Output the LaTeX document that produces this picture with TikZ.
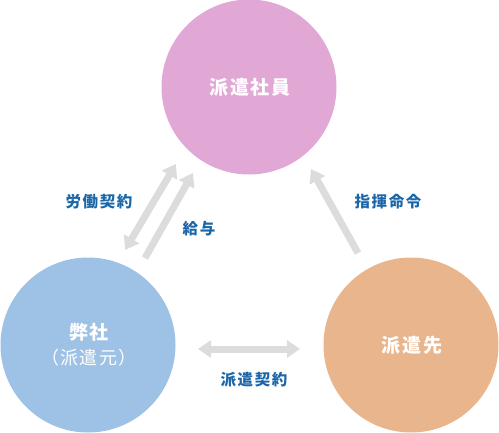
\documentclass[tikz,border=0pt]{standalone}
\usepackage{fontspec}
\newfontfamily\jp{Noto Sans CJK JP}[RawFeature=+palt,LetterSpace=10]
\usetikzlibrary{arrows.meta}
\definecolor{cpink}{HTML}{E2A8D5}
\definecolor{cblue}{HTML}{9DC2E5}
\definecolor{corange}{HTML}{E8B58C}
\definecolor{cgray}{HTML}{DCDCDC}
\definecolor{ctext}{HTML}{1A66A8}
\begin{document}
\begin{tikzpicture}[x=1pt,y=-1pt,
  circ/.style={circle,minimum size=175pt,inner sep=0pt,draw=none},
  intext/.style={text=white,font=\jp\bfseries\fontsize{19}{22}\selectfont,align=center},
  lbl/.style={text=ctext,font=\jp\bfseries\fontsize{15.5}{18}\selectfont},
  garrow/.style={draw=cgray,line width=7pt,-{Triangle[width=17pt,length=13pt]}},
  gdarrow/.style={draw=cgray,line width=7pt,{Triangle[width=17pt,length=13pt]}-{Triangle[width=17pt,length=13pt]}}]
\useasboundingbox (0,0) rectangle (499,432);
\node[circ,fill=cpink] (emp) at (249,87) {};
\node[circ,fill=cblue] (us) at (88,345) {};
\node[circ,fill=corange] (dest) at (411,345) {};
\node[intext] (empt) at (250,87) {派遣社員};
\node[intext] (ust1) at (89,332) {弊社};
\node[intext,font=\jp\fontsize{18}{20}\selectfont] (ust2) at (89,358) {（派遣元）};
\node[intext] (destt) at (412,345) {派遣先};
\coordinate (a1s) at (125,250); \coordinate (a1e) at (176,164);
\coordinate (a2s) at (145,258); \coordinate (a2e) at (193,173);
\coordinate (a3s) at (358,253); \coordinate (a3e) at (311,169);
\coordinate (a4s) at (198,349); \coordinate (a4e) at (300,349);
\draw[gdarrow] (a1s) -- (a1e);
\draw[garrow] (a2s) -- (a2e);
\draw[garrow] (a3s) -- (a3e);
\draw[gdarrow] (a4s) -- (a4e);
\node[lbl] (l1) at (99,202) {労働契約};
\node[lbl] (l2) at (199,229) {給与};
\node[lbl] (l3) at (388,202) {指揮命令};
\node[lbl] (l4) at (254,380) {派遣契約};
\end{tikzpicture}
\end{document}
